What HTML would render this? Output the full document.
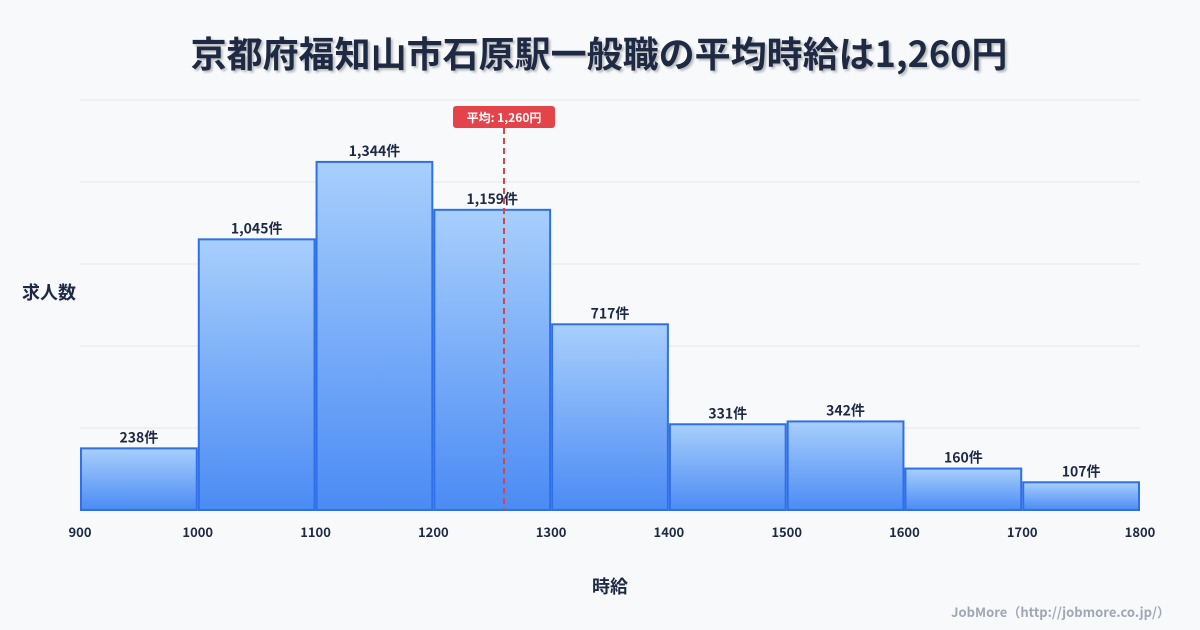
<!DOCTYPE html>
<html><head><meta charset="utf-8"><style>
html,body{margin:0;padding:0;width:1200px;height:630px;overflow:hidden;background:#f8f9fb;font-family:"Liberation Sans","Noto Sans CJK JP",sans-serif;}
svg{display:block;}
</style></head><body>
<svg id="c" width="1200" height="630" xmlns="http://www.w3.org/2000/svg">
<defs><linearGradient id="g" x1="0" y1="0" x2="0" y2="1"><stop offset="0" stop-color="#a8cffc"/><stop offset="1" stop-color="#4b8bf4"/></linearGradient></defs>
<rect width="1200" height="630" fill="#f8f9fb"/>
<text x="599" y="67" text-anchor="middle" font-size="36" font-weight="bold" fill="#1e2a44" style="font-family:'Noto Sans CJK JP',sans-serif;text-shadow:2px 2px 2px rgba(0,0,0,0.25)">京都府福知山市石原駅一般職の平均時給は1,260円</text>
<text x="49" y="299" text-anchor="middle" font-size="18" font-weight="bold" fill="#1e2a44" style="font-family:'Noto Sans CJK JP',sans-serif">求人数</text>
<text x="610" y="593" text-anchor="middle" font-size="18" font-weight="bold" fill="#1e2a44" style="font-family:'Noto Sans CJK JP',sans-serif">時給</text>
<text x="1170" y="617" text-anchor="end" font-size="13" font-weight="bold" fill="#a0a7b4" style="font-family:'Noto Sans CJK JP',sans-serif">JobMore（http://jobmore.co.jp/）</text>
<g id="grid"></g><g id="bars"></g><g id="ticks"></g><g id="mean"></g>
</svg>
<script>
const binStarts=[900,1000,1100,1200,1300,1400,1500,1600,1700];
const counts=[238,1045,1344,1159,717,331,342,160,107];
const xTicks=[900,1000,1100,1200,1300,1400,1500,1600,1700,1800];
const meanValue=1260;
const ns="http://www.w3.org/2000/svg";
const x0=80,x1=1140,xmin=900,xmax=1800,yb=510,ytop=100,ymax=1583;
const X=v=>x0+(v-xmin)/(xmax-xmin)*(x1-x0);
const Y=v=>yb-v/ymax*(yb-ytop);
function mk(t,a,p){const e=document.createElementNS(ns,t);for(const k in a)e.setAttribute(k,a[k]);p.appendChild(e);return e;}
const grid=document.getElementById('grid');
for(let i=0;i<=5;i++){const y=yb-i*(yb-ytop)/5;
const l=mk('line',{x1:x0,x2:x1,y1:y,y2:y,stroke:i==0?'#cfd4dc':'#e5e7eb','stroke-width':1},grid);

}
const bars=document.getElementById('bars');
binStarts.forEach((b,i)=>{const xa=X(b)+1,xb=X(b+100)-1,y=Y(counts[i]);
const r=mk('rect',{x:xa,y:y,width:xb-xa,height:yb-y,fill:'url(#g)',stroke:'#2f6fe8','stroke-width':2},bars);


const t=mk('text',{x:(xa+xb)/2,y:y-6,'text-anchor':'middle','font-size':14,'font-weight':'bold',fill:'#1e2a44',style:"font-family:'Noto Sans CJK JP',sans-serif"},bars);
t.textContent=counts[i].toLocaleString('en-US')+'件';

});
const ticks=document.getElementById('ticks');
xTicks.forEach(v=>{const t=mk('text',{x:X(v),y:537,'text-anchor':'middle','font-size':13,'font-weight':'bold',fill:'#1e2a44',style:"font-family:'Noto Sans CJK JP',sans-serif"},ticks);
t.textContent=v;

});
const m=document.getElementById('mean');const mx=X(meanValue);
const ml=mk('line',{x1:mx,x2:mx,y1:128,y2:yb,stroke:'#d9434a','stroke-width':2,'stroke-dasharray':'6,4'},m);


const mb=mk('rect',{x:mx-51,y:106,width:102,height:22,rx:3,fill:'#e5434a'},m);


const mt=mk('text',{x:mx,y:122,'text-anchor':'middle','font-size':12,'font-weight':'bold',fill:'#fff',style:"font-family:'Noto Sans CJK JP',sans-serif"},m);
mt.textContent='平均: '+meanValue.toLocaleString('en-US')+'円';


</script>
</body></html>
